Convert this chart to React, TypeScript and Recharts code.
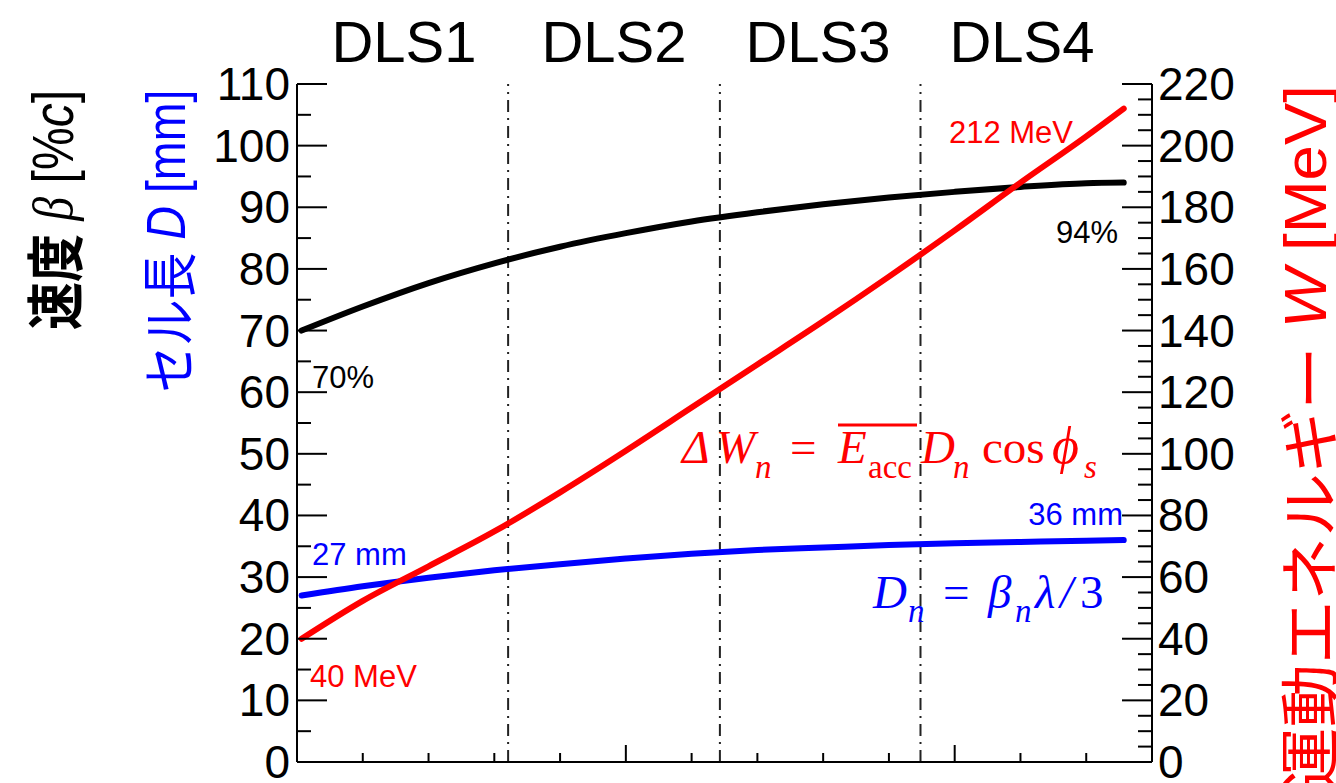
import { ComposedChart, Line, XAxis, YAxis, ReferenceLine } from "recharts";

// position along the linac (arbitrary units, one minor tick per unit)
const position = [0.07, 1, 2, 3, 4, 5, 6, 7, 8, 9, 10, 11, 12, 12.57];
// velocity beta [%c]
const beta = [70, 73.9, 77.7, 80.9, 83.6, 85.8, 87.7, 89.2, 90.5, 91.6, 92.5, 93.3, 93.9, 94];
// cell length D [mm]
const cellLength = [27, 28.5, 29.9, 31.1, 32.1, 33.0, 33.8, 34.4, 34.8, 35.2, 35.5, 35.7, 35.9, 36];
// kinetic energy W [MeV]
const energy = [40, 52.3, 63.5, 74.8, 87.5, 101, 115, 129, 143, 157.5, 172.5, 188, 203, 212];

const sections = ["DLS1", "DLS2", "DLS3", "DLS4"];
const sectionCenters = [404, 614, 818, 1022];
const sectionBounds = [3.21, 6.43, 9.48];

const leftTicks = Array.from({ length: 23 }, (_, i) => i * 5);
const rightTicks = Array.from({ length: 45 }, (_, i) => i * 5);
const xTicks = Array.from({ length: 14 }, (_, i) => i);

const data = position.map((x, i) => ({
  x,
  beta: beta[i],
  D: cellLength[i],
  W: energy[i],
}));

const W = 1336;
const H = 783;
const LEFT = 297;
const RIGHT = 1152;
const TOP = 84;
const BOTTOM = 762;

const SANS = "'Liberation Sans', Arial, Helvetica, sans-serif";
const SERIF = "'Liberation Serif', 'Times New Roman', serif";
const CJK = "'Noto Sans CJK JP', 'Liberation Sans', sans-serif";

const LeftTick = ({ y, payload }: any) => {
  const major = payload.value % 10 === 0;
  return (
    <g>
      <line x1={LEFT} x2={LEFT + (major ? 30 : 14)} y1={y} y2={y} stroke="#000" strokeWidth={2} />
      {major && (
        <text x={LEFT - 7} y={y + 16} textAnchor="end" fontSize={46} fontFamily={SANS} fill="#000">
          {payload.value}
        </text>
      )}
    </g>
  );
};

const RightTick = ({ y, payload }: any) => {
  const major = payload.value % 20 === 0;
  return (
    <g>
      <line x1={RIGHT} x2={RIGHT - (major ? 30 : 14)} y1={y} y2={y} stroke="#000" strokeWidth={2} />
      {major && (
        <text x={RIGHT + 6} y={y + 16} textAnchor="start" fontSize={46} fontFamily={SANS} fill="#000">
          {payload.value}
        </text>
      )}
    </g>
  );
};

const BottomTick = ({ x, payload }: any) => {
  const major = payload.value % 5 === 0;
  return <line x1={x} x2={x} y1={BOTTOM} y2={BOTTOM - (major ? 17 : 9)} stroke="#000" strokeWidth={2} />;
};

const TopTick = ({ x, payload }: any) => {
  const major = payload.value % 5 === 0;
  return <line x1={x} x2={x} y1={TOP} y2={TOP + (major ? 17 : 9)} stroke="#000" strokeWidth={2} />;
};

function Overlay() {
  const sub = 33;
  const big = 47;
  return (
    <svg width={W} height={H} style={{ position: "absolute", left: 0, top: 0, pointerEvents: "none" }}>
      {sections.map((s, i) => (
        <text key={s} x={sectionCenters[i]} y={62} textAnchor="middle" fontSize={58} fontFamily={SANS}>
          {s}
        </text>
      ))}

      {/* left axis titles */}
      <text
        transform="translate(52,210) rotate(-90)"
        textAnchor="middle"
        dominantBaseline="central"
        fontSize={58}
        fontFamily={SANS}
        textLength={240}
        lengthAdjust="spacingAndGlyphs"
      >
        <tspan fontFamily={CJK} fontWeight="bold">速度</tspan>
        <tspan> </tspan>
        <tspan fontFamily={SERIF} fontStyle="italic">β</tspan>
        <tspan> [%</tspan>
        <tspan fontStyle="italic">c</tspan>
        <tspan>]</tspan>
      </text>
      <text
        transform="translate(165,241) rotate(-90)"
        textAnchor="middle"
        dominantBaseline="central"
        fontSize={56}
        fontFamily={SANS}
        fill="#0000ff"
        textLength={303}
        lengthAdjust="spacingAndGlyphs"
      >
        <tspan fontFamily={CJK}>セル長</tspan>
        <tspan> </tspan>
        <tspan fontStyle="italic">D</tspan>
        <tspan> [mm]</tspan>
      </text>

      {/* right axis title */}
      <text
        transform="translate(1305,438) rotate(-90)"
        textAnchor="middle"
        dominantBaseline="central"
        fontSize={60}
        fontFamily={SANS}
        fill="#ff0000"
        textLength={706}
        lengthAdjust="spacingAndGlyphs"
      >
        <tspan fontFamily={CJK}>運動エネルギー</tspan>
        <tspan> </tspan>
        <tspan fontStyle="italic">W</tspan>
        <tspan> [MeV]</tspan>
      </text>

      {/* end-point annotations */}
      <g fontSize={31} fontFamily={SANS}>
        <text x={312} y={388} fill="#000">70%</text>
        <text x={1118} y={243} textAnchor="end" fill="#000">94%</text>
        <text x={1073} y={143} textAnchor="end" fill="#ff0000">212 MeV</text>
        <text x={310} y={687} fill="#ff0000">40 MeV</text>
        <text x={312} y={565} fill="#0000ff">27 mm</text>
        <text x={1123} y={525} textAnchor="end" fill="#0000ff">36 mm</text>
      </g>

      {/* energy gain per cell */}
      <g fontFamily={SERIF} fill="#ff0000">
        <text x={682} y={463} fontSize={big} fontStyle="italic">Δ</text>
        <text x={716} y={463} fontSize={big} fontStyle="italic">W</text>
        <text x={755} y={478} fontSize={sub} fontStyle="italic">n</text>
        <text x={790} y={463} fontSize={big}>=</text>
        <text x={838} y={463} fontSize={big} fontStyle="italic">E</text>
        <text x={868} y={478} fontSize={sub}>acc</text>
        <line x1={838} x2={917} y1={425} y2={425} stroke="#ff0000" strokeWidth={3} />
        <text x={921} y={463} fontSize={big} fontStyle="italic">D</text>
        <text x={953} y={478} fontSize={sub} fontStyle="italic">n</text>
        <text x={982} y={463} fontSize={big}>cos</text>
        <text x={1052} y={463} fontSize={52} fontStyle="italic">ϕ</text>
        <text x={1084} y={478} fontSize={sub} fontStyle="italic">s</text>
      </g>

      {/* cell length rule */}
      <g fontFamily={SERIF} fill="#0000ff">
        <text x={873} y={608} fontSize={big} fontStyle="italic">D</text>
        <text x={908} y={622} fontSize={sub} fontStyle="italic">n</text>
        <text x={943} y={608} fontSize={big}>=</text>
        <text x={988} y={608} fontSize={big} fontStyle="italic">β</text>
        <text x={1015} y={622} fontSize={sub} fontStyle="italic">n</text>
        <text x={1035} y={608} fontSize={big} fontStyle="italic">λ</text>
        <text x={1060} y={608} fontSize={big} fontStyle="italic">/</text>
        <text x={1080} y={608} fontSize={big}>3</text>
      </g>
    </svg>
  );
}

export default function App() {
  return (
    <div style={{ position: "absolute", left: 0, top: 0, width: W, height: H, background: "#fff" }}>
      <ComposedChart
        width={W}
        height={H}
        data={data}
        margin={{ top: TOP, right: 0, bottom: 0, left: 0 }}
      >
        <XAxis
          dataKey="x"
          type="number"
          domain={[0, 13]}
          ticks={xTicks}
          interval={0}
          height={H - BOTTOM}
          tickLine={false}
          tick={<BottomTick />}
          axisLine={{ stroke: "#000", strokeWidth: 2 }}
        />
        <XAxis
          xAxisId="top"
          orientation="top"
          dataKey="x"
          type="number"
          domain={[0, 13]}
          ticks={xTicks}
          interval={0}
          height={0}
          tickLine={false}
          tick={<TopTick />}
          axisLine={{ stroke: "#000", strokeWidth: 2 }}
        />
        <YAxis
          yAxisId="left"
          domain={[0, 110]}
          ticks={leftTicks}
          interval={0}
          width={LEFT}
          tickLine={false}
          tick={<LeftTick />}
          axisLine={{ stroke: "#000", strokeWidth: 2 }}
        />
        <YAxis
          yAxisId="right"
          orientation="right"
          domain={[0, 220]}
          ticks={rightTicks}
          interval={0}
          width={W - RIGHT}
          tickLine={false}
          tick={<RightTick />}
          axisLine={{ stroke: "#000", strokeWidth: 2 }}
        />
        {sectionBounds.map((b) => (
          <ReferenceLine
            key={b}
            x={b}
            yAxisId="left"
            stroke="#222"
            strokeWidth={2}
            strokeDasharray="12 6 2 6"
          />
        ))}
        <Line
          yAxisId="left"
          dataKey="beta"
          type="monotone"
          stroke="#000"
          strokeWidth={6}
          dot={false}
          strokeLinecap="round"
          isAnimationActive={false}
        />
        <Line
          yAxisId="left"
          dataKey="D"
          type="monotone"
          stroke="#0000ff"
          strokeWidth={6}
          dot={false}
          strokeLinecap="round"
          isAnimationActive={false}
        />
        <Line
          yAxisId="right"
          dataKey="W"
          type="monotone"
          stroke="#ff0000"
          strokeWidth={6}
          dot={false}
          strokeLinecap="round"
          isAnimationActive={false}
        />
      </ComposedChart>
      <Overlay />
    </div>
  );
}
